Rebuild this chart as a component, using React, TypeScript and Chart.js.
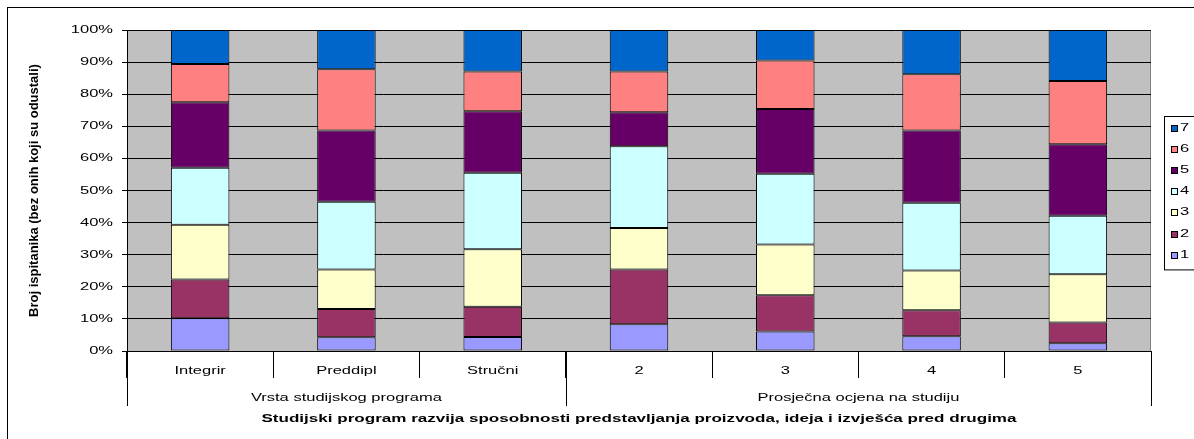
import React, { useEffect, useRef } from 'react';
import { Chart, registerables } from 'chart.js';
Chart.register(...registerables);

const categories = ['Integrir', 'Preddipl', 'Stručni', '2', '3', '4', '5'];
const groupLabels = ['Vrsta studijskog programa', 'Prosječna ocjena na studiju'];
const groupSizes = [3, 4];
const seriesLabels = ['1', '2', '3', '4', '5', '6', '7'];
const s1 = [10.2, 4.3, 4.4, 8.3, 6.1, 4.6, 2.4];
const s2 = [12.1, 8.8, 9.4, 17.1, 11.3, 8.1, 6.5];
const s3 = [17.0, 12.3, 17.9, 12.9, 15.8, 12.4, 15.0];
const s4 = [17.8, 21.1, 23.8, 25.5, 22.0, 21.1, 18.2];
const s5 = [20.4, 22.2, 19.2, 10.6, 20.2, 22.5, 22.3];
const s6 = [11.9, 19.1, 12.4, 12.7, 15.1, 17.5, 19.7];
const s7 = [10.6, 12.2, 12.9, 12.9, 9.5, 13.8, 15.9];
const seriesValues = [s1, s2, s3, s4, s5, s6, s7];
const seriesColors = ['#9999FF', '#993366', '#FFFFCC', '#CCFFFF', '#660066', '#FF8080', '#0066CC'];
const yMin = 0;
const yMax = 100;
const yStep = 10;
const xTitle = 'Studijski program razvija sposobnosti predstavljanja proizvoda, ideja i izvješća pred drugima';
const yTitle = 'Broj ispitanika (bez onih koji su odustali)';

const FONT = "'Liberation Sans', Arial, sans-serif";
const SX = 1.5;

function stretchText(ctx: CanvasRenderingContext2D, text: string, x: number, y: number, font: string, sx: number, align: CanvasTextAlign) {
  ctx.save();
  ctx.font = font;
  ctx.textAlign = align;
  ctx.textBaseline = 'middle';
  ctx.fillStyle = '#000';
  ctx.translate(x, y);
  ctx.scale(sx, 1);
  ctx.fillText(text, 0, 0);
  ctx.restore();
}

const excelPlugin = {
  id: 'excelLook',
  beforeDraw(chart: any) {
    const { ctx, chartArea: a } = chart;
    ctx.save();
    ctx.fillStyle = '#fff';
    ctx.fillRect(0, 0, chart.width, chart.height);
    ctx.fillStyle = '#C0C0C0';
    ctx.fillRect(a.left, a.top, a.right - a.left, a.bottom - a.top);
    ctx.strokeStyle = '#808080';
    ctx.lineWidth = 1;
    ctx.strokeRect(a.left + 0.5, a.top + 0.5, a.right - a.left - 1, a.bottom - a.top);
    ctx.restore();
  },
  afterDraw(chart: any) {
    const { ctx, chartArea: a } = chart;
    const xs = chart.scales.x;
    const ys = chart.scales.y;
    // outer border
    ctx.save();
    ctx.strokeStyle = '#000';
    ctx.lineWidth = 1;
    ctx.strokeRect(7.5, 7.5, chart.width + 20, chart.height + 20);
    ctx.restore();

    // y tick labels
    ys.ticks.forEach((t: any) => {
      const y = ys.getPixelForValue(t.value);
      stretchText(ctx, t.label, a.left - 14, y, `11px ${FONT}`, SX, 'right');
    });

    // category labels
    const n = categories.length;
    const cw = (a.right - a.left) / n;
    categories.forEach((c, i) => {
      stretchText(ctx, c, xs.getPixelForValue(i), a.bottom + 20, `11px ${FONT}`, SX, 'center');
    });

    // group separators and labels
    let start = 0;
    const edges: number[] = [xs.getPixelForValue(0) - cw / 2];
    groupSizes.forEach((sz, g) => {
      const left = xs.getPixelForValue(start) - cw / 2;
      const right = xs.getPixelForValue(start + sz - 1) + cw / 2;
      edges.push(right);
      stretchText(ctx, groupLabels[g], (left + right) / 2, a.bottom + 47, `11px ${FONT}`, SX, 'center');
      start += sz;
    });
    ctx.save();
    ctx.strokeStyle = '#000';
    ctx.lineWidth = 1;
    edges.forEach((e) => {
      const x = Math.round(e) + 0.5;
      ctx.beginPath();
      ctx.moveTo(x, a.bottom);
      ctx.lineTo(x, a.bottom + 55);
      ctx.stroke();
    });
    ctx.restore();

    // x title (bold)
    ctx.save();
    ctx.font = `bold 11px ${FONT}`;
    const w = ctx.measureText(xTitle).width;
    ctx.restore();
    stretchText(ctx, xTitle, (a.left + a.right) / 2, a.bottom + 68, `bold 11px ${FONT}`, 755 / w, 'center');

    // y title
    ctx.save();
    ctx.font = `bold 13px ${FONT}`;
    ctx.fillStyle = '#000';
    ctx.textAlign = 'center';
    ctx.textBaseline = 'middle';
    ctx.translate(34, (a.top + a.bottom) / 2);
    ctx.rotate(-Math.PI / 2);
    ctx.fillText(yTitle, 0, 0);
    ctx.restore();

    // legend
    const ds = chart.data.datasets;
    const lx = a.right + 13;
    const ly = 116;
    const step = 21.2;
    ctx.save();
    ctx.strokeStyle = '#000';
    ctx.lineWidth = 1;
    ctx.fillStyle = '#fff';
    ctx.fillRect(Math.round(lx) + 0.5, ly + 0.5, 60, ds.length * step + 5);
    ctx.strokeRect(Math.round(lx) + 0.5, ly + 0.5, 60, ds.length * step + 5);
    for (let k = 0; k < ds.length; k++) {
      const d = ds[ds.length - 1 - k];
      const cy = ly + 11.5 + k * step;
      ctx.fillStyle = d.backgroundColor;
      ctx.fillRect(Math.round(lx) + 7.5, Math.round(cy - 3) + 0.5, 6, 6);
      ctx.strokeRect(Math.round(lx) + 7.5, Math.round(cy - 3) + 0.5, 6, 6);
      stretchText(ctx, d.label, lx + 16, cy, `11px ${FONT}`, SX, 'left');
    }
    ctx.restore();
  },
};

export default function App() {
  const ref = useRef<HTMLCanvasElement | null>(null);
  useEffect(() => {
    if (!ref.current) return;
    const chart = new Chart(ref.current, {
      type: 'bar',
      data: {
        labels: categories,
        datasets: seriesValues.map((vals, i) => ({
          label: seriesLabels[i],
          data: vals,
          backgroundColor: seriesColors[i],
          borderColor: '#000',
          borderWidth: 1,
          borderSkipped: false,
          barPercentage: 0.4,
          categoryPercentage: 1.0,
        })),
      },
      options: {
        animation: false,
        responsive: false,
        events: [],
        layout: { padding: { top: 30, right: 43, left: 0, bottom: 0 } },
        plugins: { legend: { display: false }, tooltip: { enabled: false }, title: { display: false } },
        scales: {
          x: {
            type: 'category',
            stacked: true,
            offset: true,
            ticks: { display: false },
            grid: { offset: true, drawOnChartArea: false, drawTicks: true, tickLength: 27, color: '#000', lineWidth: 1 },
            border: { display: true, color: '#000', width: 1 },
            afterFit: (s: any) => { s.height = 88; },
          },
          y: {
            stacked: true,
            min: yMin,
            max: yMax,
            ticks: { display: false, stepSize: yStep, callback: (v: any) => `${v}%` },
            grid: { color: '#000', lineWidth: 1, drawTicks: true, tickLength: 5 },
            border: { display: true, color: '#000', width: 1 },
            afterFit: (s: any) => { s.width = 127; },
          },
        },
      },
      plugins: [excelPlugin],
    } as any);
    return () => chart.destroy();
  }, []);
  return (
    <div style={{ position: 'fixed', left: 0, top: 0, width: 1194, height: 439, overflow: 'hidden', background: '#fff' }}>
      <canvas ref={ref} width={1194} height={439} style={{ display: 'block' }} />
    </div>
  );
}
